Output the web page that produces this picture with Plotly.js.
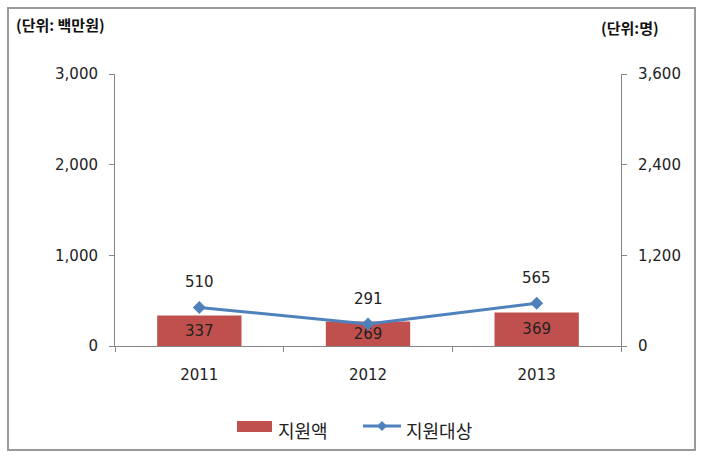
<!DOCTYPE html>
<html><head><meta charset="utf-8">
<script src="https://cdn.plot.ly/plotly-3.0.1.min.js"></script>
<style>html,body{margin:0;padding:0;background:#fff;}#chart{width:701px;height:458px;}</style>
</head><body><div id="chart"></div>
<script>
var years = ['2011', '2012', '2013'];
var amount = [337, 269, 369];        // 지원액 (백만원)
var recipients = [510, 291, 565];    // 지원대상 (명)
var leftTicks = [0, 1000, 2000, 3000];
var rightTicks = [0, 1200, 2400, 3600];
var seriesNames = ['지원액', '지원대상'];

var FONT = '"DejaVu Sans", "Noto Sans CJK KR", sans-serif';
var KFONT = '"Noto Sans CJK KR", "DejaVu Sans", sans-serif';
var idx = years.map(function (_, i) { return i; });
var bounds = [-0.5].concat(idx.map(function (i) { return i + 0.5; }));

function px(x) { return (x - 115) / 506; }
function py(y) { return (346 - y) / 272; }

var bar = {
  type: 'bar', name: seriesNames[0], x: idx, y: amount,
  marker: {color: '#C0504D'}, width: 0.5,
  text: amount.map(String), textposition: 'inside', insidetextanchor: 'middle',
  textfont: {family: FONT, size: 15, color: '#222'}, constraintext: 'none',
  hoverinfo: 'none', showlegend: false
};
var line = {
  type: 'scatter', mode: 'lines+markers', name: seriesNames[1], x: idx, y: recipients,
  yaxis: 'y2', line: {color: '#4F81BD', width: 3},
  marker: {symbol: 'diamond', size: 10, color: '#4F81BD'}, hoverinfo: 'none', showlegend: false
};

var annotations = recipients.map(function (v, i) {
  return {x: idx[i], y: v, xref: 'x', yref: 'y2', text: String(v), showarrow: false,
    yshift: 25, font: {family: FONT, size: 15, color: '#222'}};
});
annotations.push({xref: 'paper', yref: 'paper', x: px(14), y: py(25), xanchor: 'left', yanchor: 'middle',
  text: '<b>(단위: 백만원)</b>', showarrow: false, font: {family: KFONT, size: 15, color: '#111'}});
annotations.push({xref: 'paper', yref: 'paper', x: px(661), y: py(28), xanchor: 'right', yanchor: 'middle',
  text: '<b>(단위:명)</b>', showarrow: false, font: {family: KFONT, size: 15, color: '#111'}});
// custom legend labels
annotations.push({xref: 'paper', yref: 'paper', x: px(276), y: py(430), xanchor: 'left', yanchor: 'middle',
  text: seriesNames[0], showarrow: false, font: {family: KFONT, size: 18, color: '#222'}});
annotations.push({xref: 'paper', yref: 'paper', x: px(404), y: py(430), xanchor: 'left', yanchor: 'middle',
  text: seriesNames[1], showarrow: false, font: {family: KFONT, size: 18, color: '#222'}});

var shapes = [
  {type: 'rect', xref: 'paper', yref: 'paper', x0: px(8), x1: px(695), y0: py(450), y1: py(8),
    line: {color: '#999', width: 2}, fillcolor: 'rgba(0,0,0,0)', layer: 'below'},
  {type: 'rect', xref: 'paper', yref: 'paper', x0: px(237), x1: px(272), y0: py(432), y1: py(421),
    line: {width: 0}, fillcolor: '#C0504D'},
  {type: 'line', xref: 'paper', yref: 'paper', x0: px(363), x1: px(401), y0: py(426), y1: py(426),
    line: {color: '#4F81BD', width: 3}},
  {type: 'path', xref: 'paper', yref: 'paper',
    path: 'M ' + px(377) + ' ' + py(426) + ' L ' + px(382) + ' ' + py(421) + ' L ' + px(387) + ' ' + py(426) +
      ' L ' + px(382) + ' ' + py(431) + ' Z',
    line: {width: 0}, fillcolor: '#4F81BD'}
];

var layout = {
  width: 701, height: 458,
  margin: {l: 115, r: 80, t: 74, b: 112},
  paper_bgcolor: '#fff', plot_bgcolor: '#fff',
  font: {family: FONT, size: 14, color: '#222'},
  showlegend: false,
  xaxis: {range: [-0.5, idx.length - 0.5], tickvals: idx, ticktext: years, ticks: '',
    showline: true, linecolor: '#868686', linewidth: 1,
    minor: {tickvals: bounds, ticks: 'outside', ticklen: 5, tickcolor: '#868686', showgrid: false},
    showgrid: false, zeroline: false, tickfont: {family: FONT, size: 15, color: '#222'},
    ticklabelstandoff: 15},
  yaxis: {range: [0, 3000], tickvals: leftTicks, ticktext: leftTicks.map(function (v) { return v.toLocaleString('en-US'); }),
    showline: true, linecolor: '#868686', linewidth: 1, ticks: 'outside', ticklen: 5, tickcolor: '#868686',
    showgrid: false, zeroline: false, tickfont: {family: FONT, size: 15, color: '#222'}, ticklabelstandoff: 8},
  yaxis2: {overlaying: 'y', side: 'right', range: [0, 3600], tickvals: rightTicks,
    ticktext: rightTicks.map(function (v) { return v.toLocaleString('en-US'); }),
    showline: true, linecolor: '#868686', linewidth: 1, ticks: 'outside', ticklen: 5, tickcolor: '#868686',
    showgrid: false, zeroline: false, tickfont: {family: FONT, size: 15, color: '#222'}, ticklabelstandoff: 8},
  annotations: annotations,
  shapes: shapes
};

Plotly.newPlot('chart', [bar, line], layout, {displayModeBar: false, staticPlot: true});
</script>
</body></html>
